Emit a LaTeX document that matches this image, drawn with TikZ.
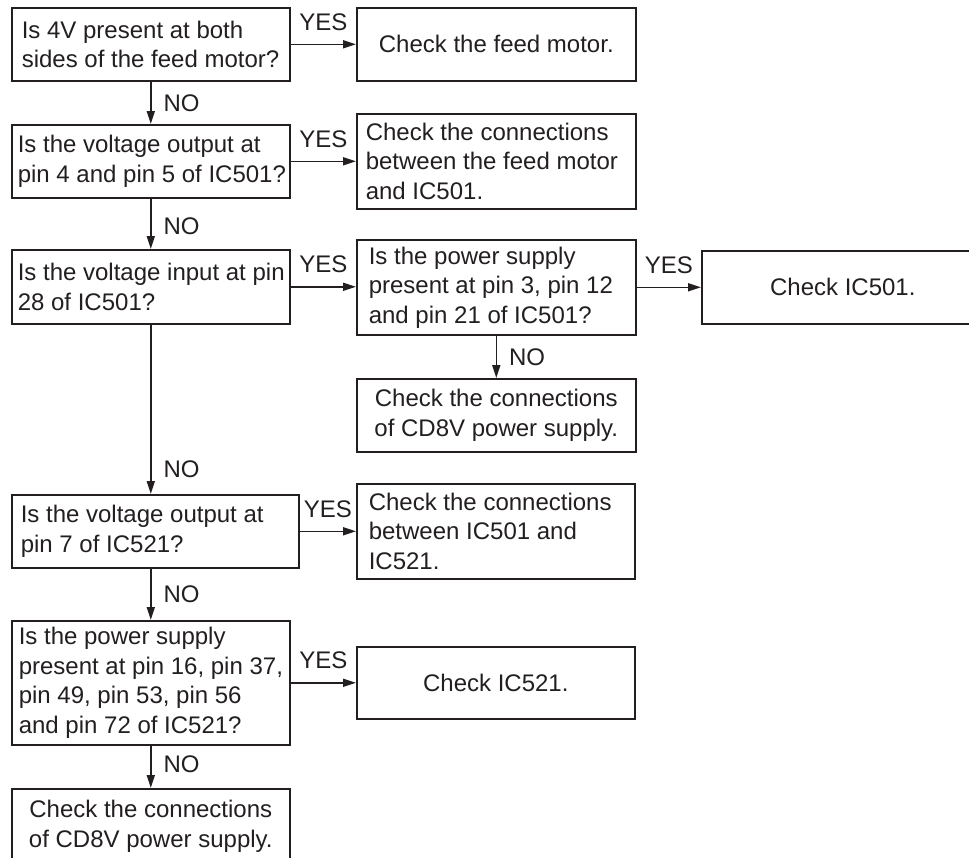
\documentclass[tikz,border=0pt]{standalone}
\usepackage{fontspec}
\setmainfont{Liberation Sans}
\usetikzlibrary{arrows.meta}
\definecolor{ink}{RGB}{35,31,32}
\newcommand\ml[1]{\mbox{\spaceskip=0pt\xspaceskip=0pt\relax #1}}
\tikzset{
  base/.style={draw=ink, text=ink, line width=1.6pt, anchor=north west, inner ysep=0pt,
    font=\fontsize{24}{29.5}\selectfont},
  qbox/.style={base, align=left},
  cbox/.style={base, align=center},
  arr/.style={draw=ink, line width=1.6pt, -{Triangle[length=13pt,width=8pt]}},
  yeslab/.style={above=13pt, inner sep=0pt, text=ink, font=\fontsize{24}{29}\selectfont},
  nolab/.style={right=12pt, inner sep=0pt, text=ink, font=\fontsize{24}{29}\selectfont}
}
\begin{document}
\begin{tikzpicture}[x=1pt,y=-1pt]
\useasboundingbox (0,0) rectangle (969,857);
\clip (0,0) rectangle (969,857);
\fill[white] (0,0) rectangle (969,857);

\node[qbox, minimum width=278pt, minimum height=73pt, inner xsep=10pt, text width=258pt] (b1) at (11,7)
  {\ml{Is 4V present at both}\\\ml{sides of the feed motor?}};
\node[cbox, minimum width=279pt, minimum height=73pt] (b2) at (356,7) {Check the feed motor.};

\node[qbox, minimum width=278pt, minimum height=73pt, inner xsep=6pt, text width=266pt] (b3) at (11,124)
  {\ml{Is the voltage output at}\\\ml{pin 4 and pin 5 of IC501?}};
\node[qbox, minimum width=279pt, minimum height=95pt, inner xsep=9pt, text width=261pt] (b4) at (356,113)
  {\ml{Check the connections}\\\ml{between the feed motor}\\\ml{and IC501.}};

\node[qbox, minimum width=278pt, minimum height=74pt, inner xsep=6pt, text width=266pt] (b5) at (11,249)
  {\ml{Is the voltage input at pin}\\\ml{28 of IC501?}};
\node[qbox, minimum width=279pt, minimum height=95pt, inner xsep=12pt, text width=255pt] (b6) at (356,239)
  {\ml{Is the power supply}\\\ml{present at pin 3, pin 12}\\\ml{and pin 21 of IC501?}};
\node[cbox, minimum width=282pt, minimum height=73pt] (b7) at (701,250) {Check IC501.};
\node[cbox, minimum width=279pt, minimum height=73pt] (b8) at (356,378)
  {Check the connections\\of CD8V power supply.};

\node[qbox, minimum width=287pt, minimum height=73pt, inner xsep=9pt, text width=269pt] (b9) at (11,494)
  {\ml{Is the voltage output at}\\\ml{pin 7 of IC521?}};
\node[qbox, minimum width=278pt, minimum height=95pt, inner xsep=12pt, text width=254pt] (b10) at (356,483)
  {\ml{Check the connections}\\\ml{between IC501 and}\\\ml{IC521.}};

\node[qbox, minimum width=278pt, minimum height=124pt, inner xsep=7pt, text width=264pt] (b11) at (11,620)
  {\ml{Is the power supply}\\\ml{present at pin 16, pin 37,}\\\ml{pin 49, pin 53, pin 56}\\\ml{and pin 72 of IC521?}};
\node[cbox, minimum width=278pt, minimum height=72pt] (b12) at (356,646) {Check IC521.};

\node[cbox, minimum width=278pt, minimum height=75pt] (b13) at (11,788)
  {Check the connections\\of CD8V power supply.};

% YES connectors
\draw[arr] (b1.east) -- node[yeslab] {YES} (b1.east -| b2.west);
\draw[arr] (b3.east) -- node[yeslab] {YES} (b3.east -| b4.west);
\draw[arr] (b5.east) -- node[yeslab] {YES} (b5.east -| b6.west);
\draw[arr] (b6.east) -- node[yeslab] {YES} (b6.east -| b7.west);
\draw[arr] (b9.east) -- node[yeslab] {YES} (b9.east -| b10.west);
\draw[arr] (b11.east) -- node[yeslab] {YES} (b11.east -| b12.west);

% NO connectors
\draw[arr] (b1.south) -- node[nolab] {NO} (b3.north);
\draw[arr] (b3.south) -- node[nolab, pos=.55] {NO} (b5.north);
\draw[arr] (b6.south) -- node[nolab] {NO} (b8.north);
\draw[arr] (b5.south) -- node[nolab, pos=.855] {NO} (b5.south |- b9.north);
\draw[arr] (b11.north |- b9.south) -- node[nolab] {NO} (b11.north);
\draw[arr] (b11.south) -- node[nolab, pos=.45] {NO} (b13.north);
\end{tikzpicture}
\end{document}
